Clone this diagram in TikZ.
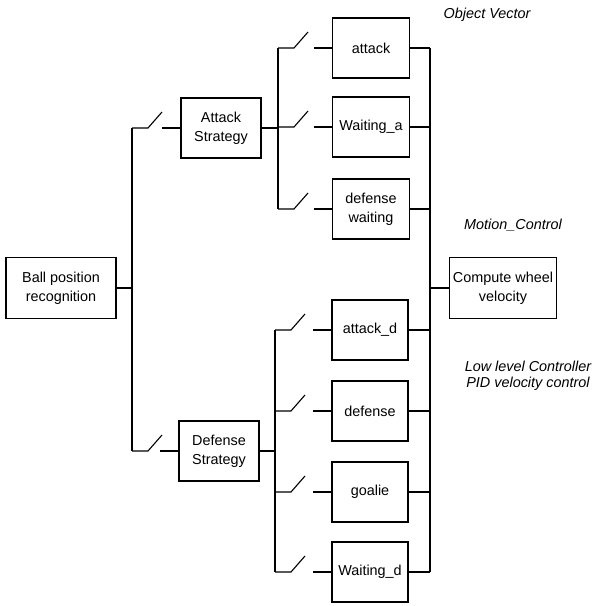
\documentclass[tikz,border=0pt]{standalone}
\usepackage{fontspec}
\setmainfont{Liberation Sans}
\usepackage{tikz}
\usetikzlibrary{calc}

\tikzset{
  blk/.style={draw, line width=1.3pt, minimum width=77pt, minimum height=60pt, inner sep=0pt, align=center},
  wire/.style={line width=1.1pt},
  note/.style={font=\fontsize{14.4}{16}\selectfont\itshape, align=center}
}

\begin{document}
\begin{tikzpicture}[x=1pt,y=-1pt,font=\fontsize{14.4}{19}\selectfont]
\useasboundingbox (0,0) rectangle (595,606);

% blocks
\node[blk, minimum width=110pt, minimum height=61pt] (ball) at (61,288) {Ball position\\recognition};
\node[blk, minimum width=80pt] (atk) at (221,128) {Attack\\Strategy};
\node[blk, minimum width=80pt] (dfs) at (219,451) {Defense\\Strategy};
\node[blk] (attack) at (371,48) {attack};
\node[blk] (waita) at (371,127) {Waiting\_a};
\node[blk] (defw) at (371,209) {defense\\waiting};
\node[blk, minimum width=76pt] (attackd) at (370,330) {attack\_d};
\node[blk, minimum width=76pt] (defense) at (370,411) {defense};
\node[blk, minimum width=76pt] (goalie) at (370,492) {goalie};
\node[blk, minimum width=76pt] (waitd) at (370,572) {Waiting\_d};
\node[blk, minimum width=107pt, minimum height=61pt] (comp) at (503,288) {Compute wheel\\velocity};

% labels
\node[note] (objv) at (487,15) {Object Vector};
\node[note] (motc) at (513,225) {Motion\_Control};
\node[note] (lowc) at (528,376) {Low level Controller\\PID velocity control};

% buses
\coordinate (b1) at (132,0);
\coordinate (b2a) at (278,0);
\coordinate (b2b) at (275,0);
\coordinate (b3) at (430,0);
\draw[wire] (b1 |- atk) -- (b1 |- dfs);
\draw[wire] (b2a |- attack) -- (b2a |- defw);
\draw[wire] (b2b |- attackd) -- (b2b |- waitd);
\draw[wire] (b3 |- attack) -- (b3 |- waitd);

% wires into the buses
\draw[wire] (ball.east) -- (ball.east -| b1);
\draw[wire] (atk.east) -- (atk.east -| b2a);
\draw[wire] (dfs.east) -- (dfs.east -| b2b);
\foreach \n in {attack,waita,defw,attackd,defense,goalie,waitd}
  \draw[wire] (\n.east) -- (\n.east -| b3);
\draw[wire] (b3 |- comp.west) -- (comp.west);

% switches
\foreach \bus/\n in {b1/atk,b1/dfs,b2a/attack,b2a/waita,b2a/defw,b2b/attackd,b2b/defense,b2b/goalie,b2b/waitd}{
  \draw[wire] (\n.west) -- ++(-18,0);
  \draw[wire] (\bus |- \n.west) -- ++(16,0) -- ++(14,-16);
}
\end{tikzpicture}
\end{document}
